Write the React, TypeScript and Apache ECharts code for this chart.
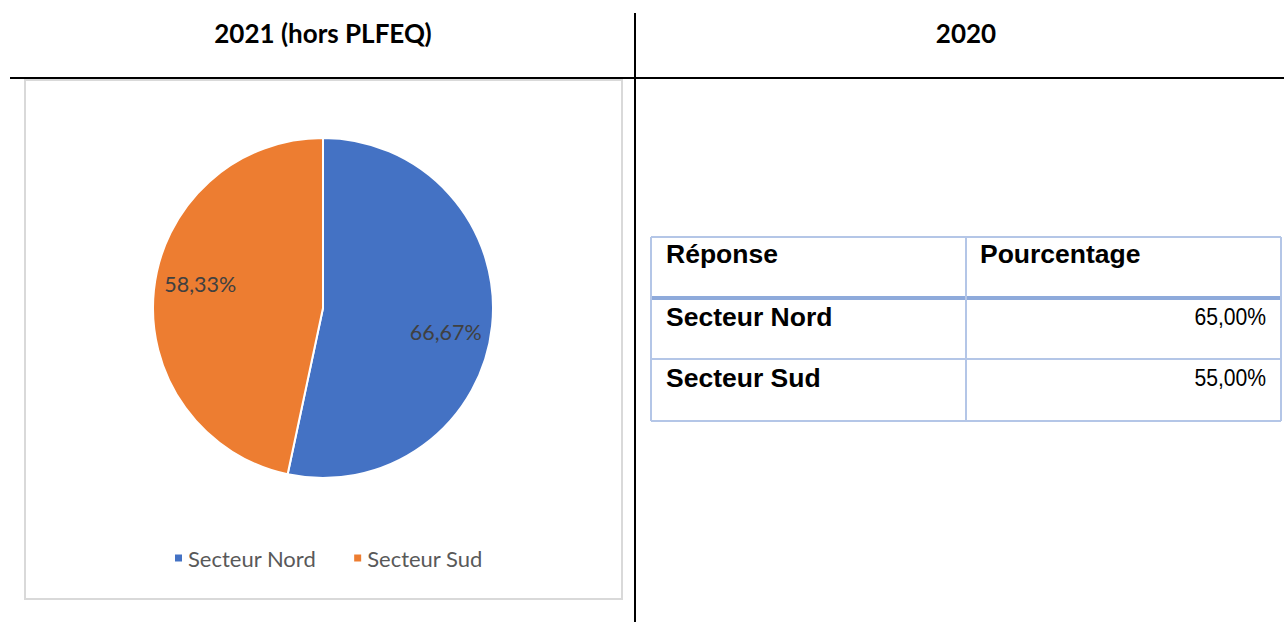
import React, { useEffect, useRef } from "react";
import * as echarts from "echarts";

const categories = ["Secteur Nord", "Secteur Sud"];
const values2021 = [66.67, 58.33];
const colors = ["#4472C4", "#ED7D31"];
const headerLabels = ["2021 (hors PLFEQ)", "2020"];
const tableHeaders = ["Réponse", "Pourcentage"];
const values2020 = [65.0, 55.0];

const fmt = (v: number) => v.toFixed(2).replace(".", ",") + "%";

export default function App() {
  const ref = useRef<HTMLDivElement>(null);
  useEffect(() => {
    if (!ref.current) return;
    const chart = echarts.init(ref.current, null, { renderer: "svg" });

    const tl = 651, tr = 1281, tc = 966;
    const rows = [237, 298, 359, 421];
    const thin = "#B4C6E7";
    const thick = "#8EAADB";
    const boldFont = "bold 26.5px 'Liberation Sans'";

    const graphic: any[] = [
      { type: "rect", z: 0, shape: { x: 25, y: 80, width: 597, height: 519 }, style: { fill: "#fff", stroke: "#D9D9D9", lineWidth: 2 } },
      { type: "line", z: 10, shape: { x1: 10, y1: 78, x2: 1284, y2: 78 }, style: { stroke: "#000", lineWidth: 2 } },
      { type: "line", z: 10, shape: { x1: 635, y1: 13, x2: 635, y2: 622 }, style: { stroke: "#000", lineWidth: 2 } },
      { type: "text", z: 10, x: 323, y: 33, style: { text: headerLabels[0], font: "bold 26px Lato", fill: "#000", align: "center", verticalAlign: "middle" } },
      { type: "text", z: 10, x: 966, y: 33, style: { text: headerLabels[1], font: "bold 26px Lato", fill: "#000", align: "center", verticalAlign: "middle" } },
      // table
      { type: "line", z: 10, shape: { x1: tl, y1: rows[0], x2: tr, y2: rows[0] }, style: { stroke: thin, lineWidth: 2 } },
      { type: "line", z: 10, shape: { x1: tl, y1: rows[1], x2: tr, y2: rows[1] }, style: { stroke: thick, lineWidth: 4 } },
      { type: "line", z: 10, shape: { x1: tl, y1: rows[2], x2: tr, y2: rows[2] }, style: { stroke: thin, lineWidth: 2 } },
      { type: "line", z: 10, shape: { x1: tl, y1: rows[3], x2: tr, y2: rows[3] }, style: { stroke: thin, lineWidth: 2 } },
      { type: "line", z: 10, shape: { x1: tl, y1: rows[0], x2: tl, y2: rows[3] }, style: { stroke: thin, lineWidth: 2 } },
      { type: "line", z: 10, shape: { x1: tc, y1: rows[0], x2: tc, y2: rows[3] }, style: { stroke: thin, lineWidth: 2 } },
      { type: "line", z: 10, shape: { x1: tr, y1: rows[0], x2: tr, y2: rows[3] }, style: { stroke: thin, lineWidth: 2 } },
      { type: "text", z: 10, x: 666, y: 254, style: { text: tableHeaders[0], font: boldFont, fill: "#000", verticalAlign: "middle" } },
      { type: "text", z: 10, x: 980, y: 254, style: { text: tableHeaders[1], font: boldFont, fill: "#000", verticalAlign: "middle" } },
    ];
    categories.forEach((c, i) => {
      const y = rows[i + 1] + 19;
      graphic.push({ type: "text", z: 10, x: 666, y, style: { text: c, font: boldFont, fill: "#000", verticalAlign: "middle" } });
      graphic.push({ type: "text", z: 10, x: 1266, y, scaleX: 0.88, style: { text: fmt(values2020[i]), font: "24px 'Liberation Sans'", fill: "#000", align: "right", verticalAlign: "middle" } });
    });

    const data = categories.map((c, i) => ({ name: c, value: values2021[i], itemStyle: { color: colors[i] } }));

    chart.setOption({
      animation: false,
      graphic,
      legend: {
        data: categories,
        left: 168,
        top: 542,
        icon: "rect",
        itemWidth: 9,
        itemHeight: 9,
        itemGap: 36,
        textStyle: { fontFamily: "Lato", fontSize: 22, color: "#595959" },
      },
      series: [
        {
          type: "pie",
          center: [323, 308],
          radius: [0, 170],
          startAngle: 90,
          clockwise: true,
          label: { show: false },
          labelLine: { show: false },
          itemStyle: { borderColor: "#fff", borderWidth: 2 },
          emphasis: { disabled: true },
          data,
        },
        {
          type: "pie",
          center: [323, 308],
          radius: [74, 170],
          startAngle: 85,
          clockwise: true,
          silent: true,
          emphasis: { disabled: true },
          itemStyle: { color: "transparent", borderWidth: 0 },
          label: {
            show: true,
            position: "inside",
            formatter: (p: any) => fmt(p.value),
            fontFamily: "Lato",
            fontSize: 21.5,
            color: "#404040",
          },
          labelLine: { show: false },
          data: categories.map((c, i) => ({ name: c, value: values2021[i], itemStyle: { color: "transparent" } })),
        },
      ],
    });
    return () => chart.dispose();
  }, []);

  return (
    <div style={{ position: "absolute", left: 0, top: 0, width: 1284, height: 622, background: "#fff" }}>
      <div ref={ref} style={{ width: 1284, height: 622 }} />
    </div>
  );
}
